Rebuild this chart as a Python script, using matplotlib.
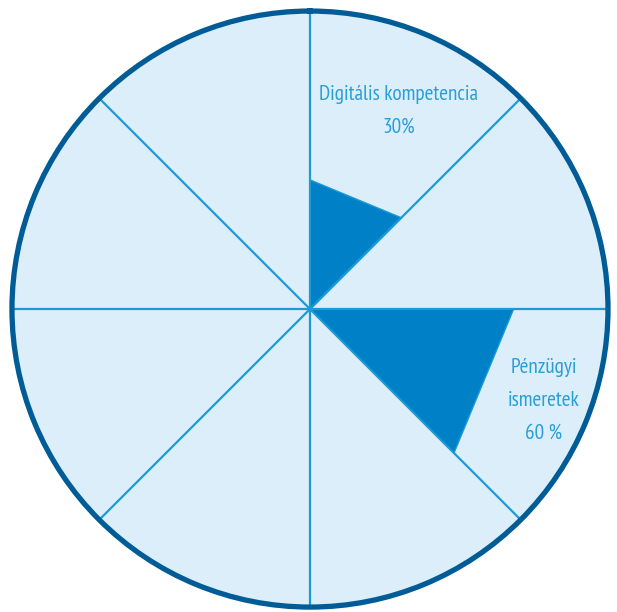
import numpy as np
import matplotlib
matplotlib.use("Agg")
import matplotlib.pyplot as plt

# data
sector_count = 8
categories = ["Digitális kompetencia", "Pénzügyi\nismeretek"]
value_labels = ["30%", "60 %"]
values = [30, 60]            # percent
sector_index = [0, 2]         # clockwise from top, 45° sectors

BG = "#DCEEFA"
SPOKE = "#1C9AD6"
WEDGE = "#0080C6"
RIM = "#005C96"
TXT = "#2A9ED8"

W, H = 617, 612
fig = plt.figure(figsize=(W / 100, H / 100), dpi=100)
ax = fig.add_axes([0.0194, 0.008, 0.966, 0.974], projection="polar")
ax.set_theta_zero_location("N")
ax.set_theta_direction(-1)
rmin, rmax = -22, 98
ax.set_ylim(rmin, rmax)
ax.set_facecolor(BG)

step = 2 * np.pi / sector_count
for v, si in zip(values, sector_index):
    t1 = si * step
    t2 = (si + 1) * step
    ax.fill([t1, t1, t2, t1], [rmin, v, v, rmin], facecolor=WEDGE,
            edgecolor=SPOKE, linewidth=1.0, zorder=2)

ax.set_xticks(np.arange(sector_count) * step)
ax.set_xticklabels([])
ax.set_yticks([])
ax.xaxis.grid(True, color=SPOKE, linewidth=1.6)
ax.yaxis.grid(False)
ax.set_axisbelow(False)
for gl in ax.xaxis.get_gridlines():
    gl.set_zorder(3)
ax.spines["polar"].set_color(RIM)
ax.spines["polar"].set_linewidth(3.8)
ax.spines["polar"].set_zorder(5)

font = ["PT Sans Narrow", "Liberation Sans Narrow", "DejaVu Sans"]


def label(lines, x_px, baselines_px):
    for line, yb in zip(lines, baselines_px):
        fig.text(x_px / W, 1 - yb / H, line, ha="center", va="baseline",
                 color=TXT, fontsize=15.3, family=font, zorder=6)


label([categories[0], value_labels[0]], 398.5, [100, 133])
label(categories[1].split("\n") + [value_labels[1]], 543.5, [373, 406, 439])

fig.savefig("out.png", dpi=100)
